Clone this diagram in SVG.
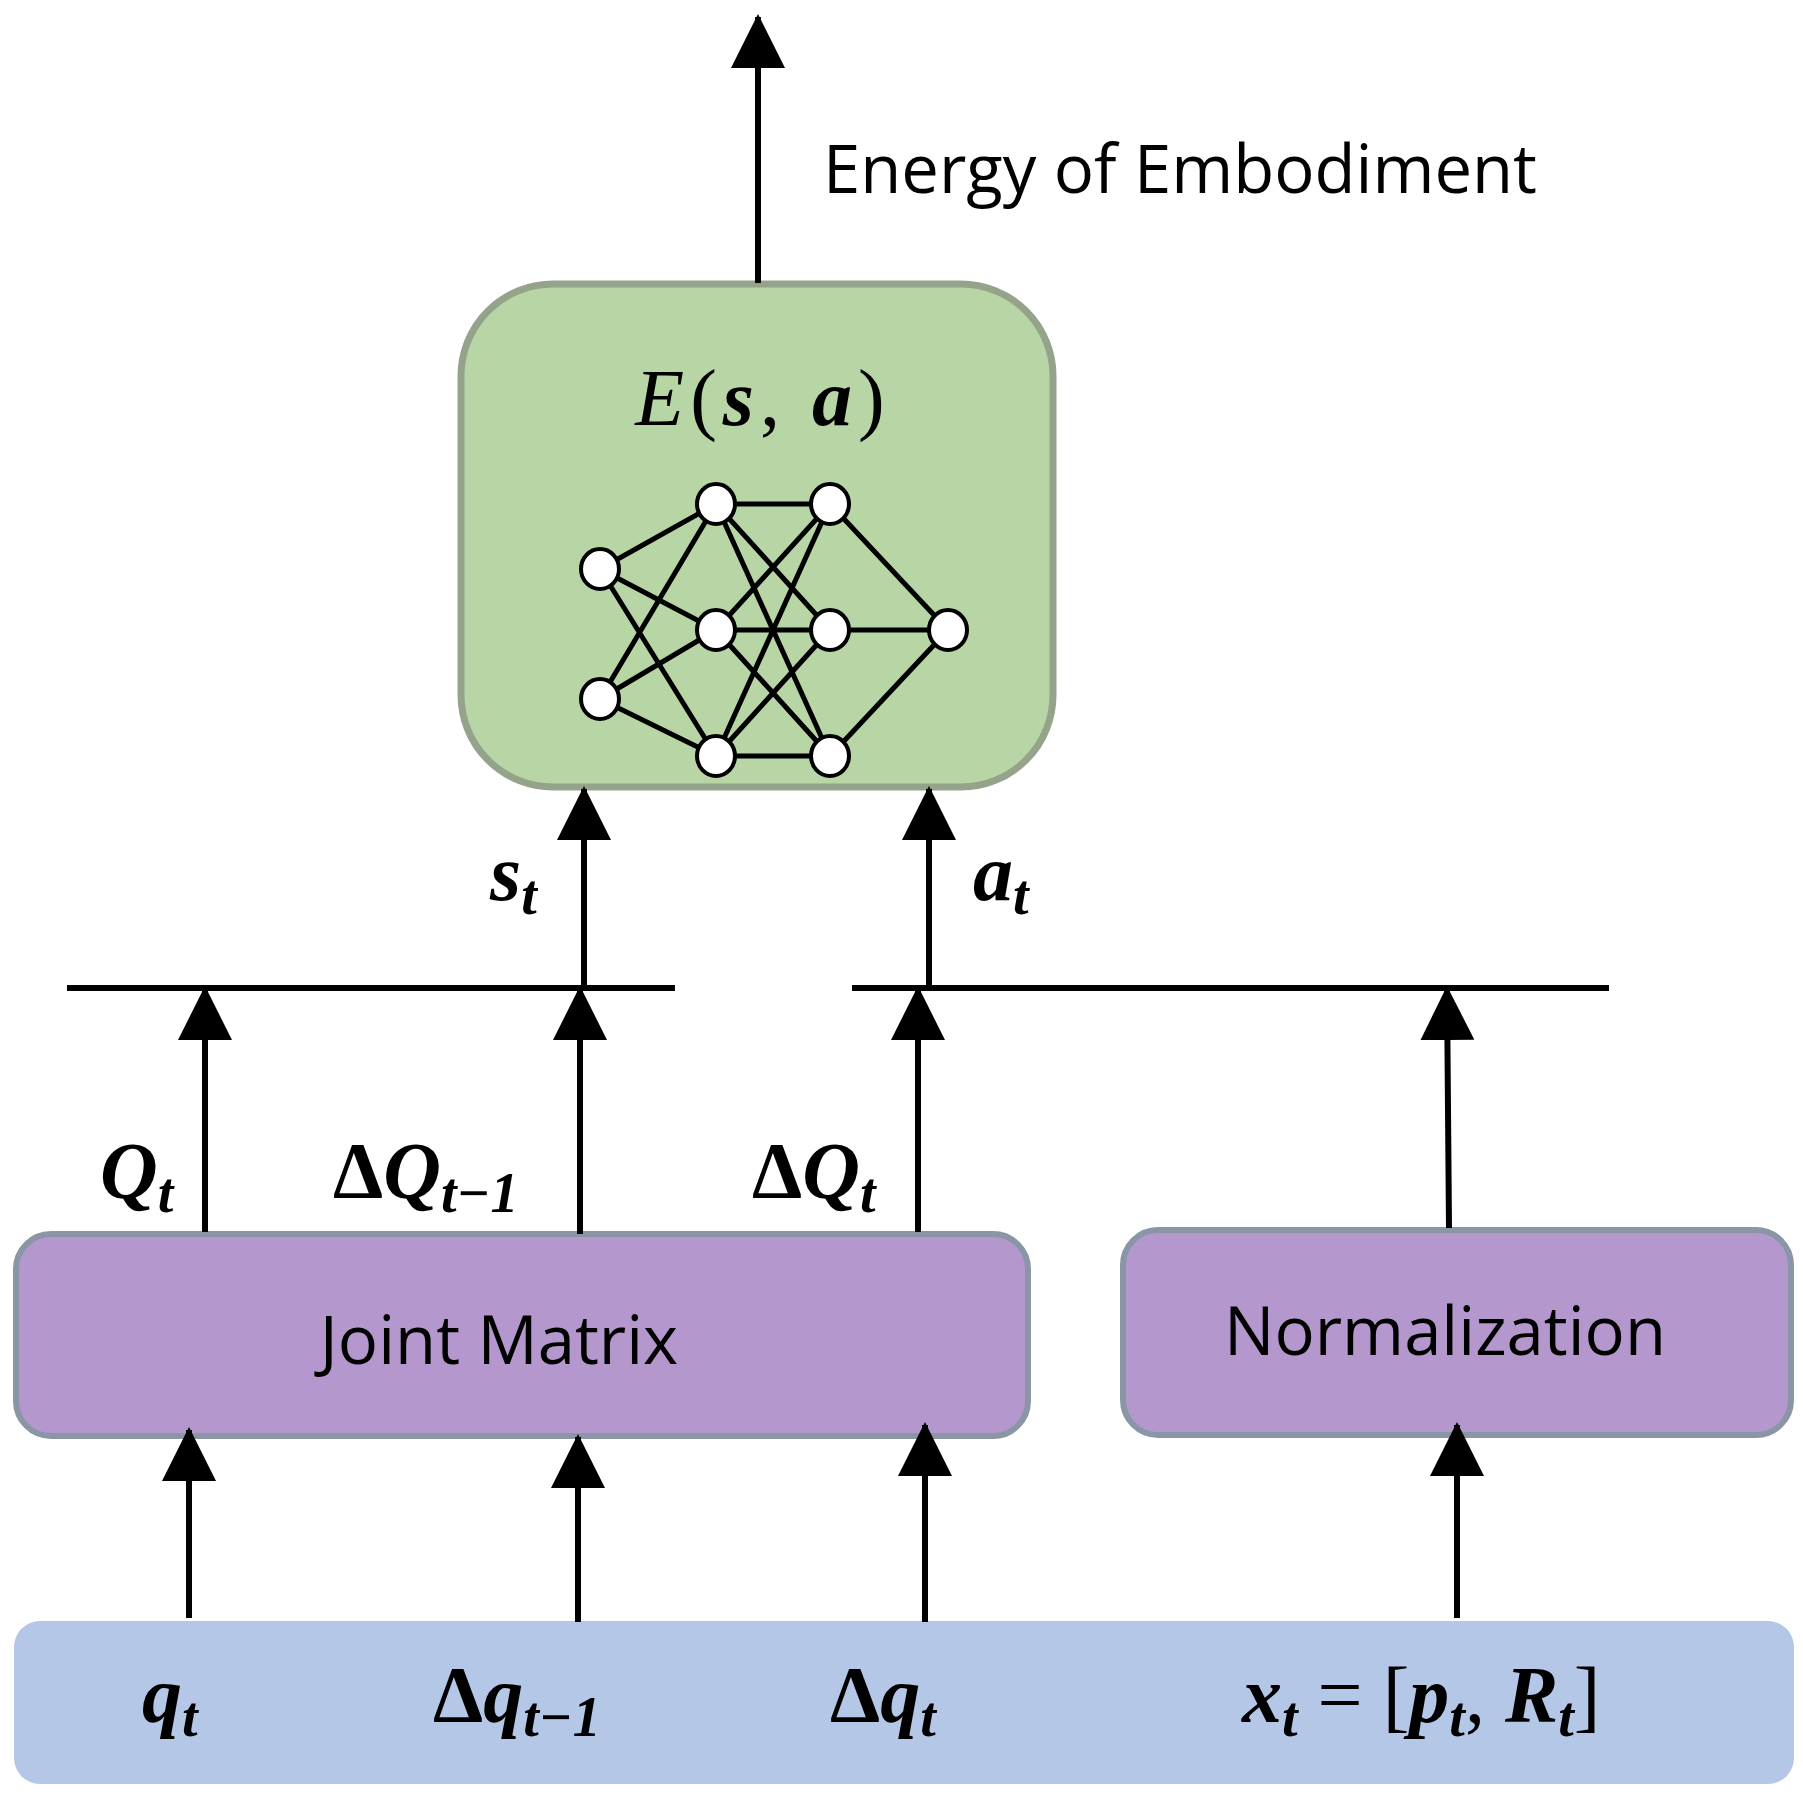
<svg xmlns="http://www.w3.org/2000/svg" width="1803" height="1793" viewBox="0 0 1803 1793">
<style>
.ln{stroke:#000;stroke-width:6;fill:none}
.m{font-family:"Liberation Serif",serif;font-style:italic;font-weight:bold;font-size:80px;fill:#000}
.sub{font-size:56px}
.up{font-style:normal}
.lbl{font-family:"Open Sans","Liberation Sans",sans-serif;font-size:67px;fill:#000}
.nn{stroke:#000;stroke-width:5;fill:none}
.nd{fill:#fff;stroke:#000;stroke-width:4}
</style>
<defs>
<marker id="ah" markerWidth="9" markerHeight="9" refX="8.5" refY="4.5" orient="auto" markerUnits="strokeWidth">
<path d="M0,0 L9,4.5 L0,9 Z" fill="#000"/>
</marker>
</defs>
<rect width="1803" height="1793" fill="#fff"/>
<g id="inputs">
<rect x="14" y="1621" width="1780" height="163" rx="26" fill="#b4c7e7"/>
<text class="m" x="142" y="1722">q<tspan class="sub" dy="14">t</tspan></text>
<text class="m" x="433" y="1722"><tspan class="up">Δ</tspan>q<tspan class="sub" dy="14">t−1</tspan></text>
<text class="m" x="830" y="1722"><tspan class="up">Δ</tspan>q<tspan class="sub" dy="14">t</tspan></text>
<text class="m" x="1242" y="1722">x<tspan class="sub" dy="14">t</tspan><tspan dy="-14" class="up" font-weight="normal"> = [</tspan>p<tspan class="sub" dy="14">t</tspan><tspan dy="-14" class="up" font-weight="normal">, </tspan>R<tspan class="sub" dy="14">t</tspan><tspan dy="-14" class="up" font-weight="normal">]</tspan></text>
</g>
<g id="joint">
<rect x="16" y="1234" width="1012" height="202" rx="35" fill="#b498cd" stroke="#8a95a5" stroke-width="6"/>
<text class="lbl" x="499" y="1364" text-anchor="middle" font-size="71">Joint Matrix</text>
</g>
<g id="norm">
<rect x="1123" y="1230" width="668" height="205" rx="35" fill="#b498cd" stroke="#8a95a5" stroke-width="6"/>
<text class="lbl" x="1445" y="1355" text-anchor="middle" font-size="70">Normalization</text>
</g>
<g id="energy">
<rect x="461" y="284" width="592" height="503" rx="92" fill="#b7d5a5" stroke="#95a38b" stroke-width="7"/>
<text class="m" x="763" y="425" text-anchor="middle" font-size="98" letter-spacing="6"><tspan font-weight="normal">E</tspan><tspan class="up" font-weight="normal">(</tspan>s<tspan class="up" font-weight="normal">, </tspan>a<tspan class="up" font-weight="normal">)</tspan></text>
<g class="nn">
<path d="M600,569L716,504M600,569L716,630M600,569L716,756M600,699L716,504M600,699L716,630M600,699L716,756"/>
<path d="M716,504L830,504M716,504L830,630M716,504L830,756M716,630L830,504M716,630L830,630M716,630L830,756M716,756L830,504M716,756L830,630M716,756L830,756"/>
<path d="M830,504L948,630M830,630L948,630M830,756L948,630"/>
</g>
<g class="nd">
<ellipse cx="600" cy="569" rx="19" ry="20"/><ellipse cx="600" cy="699" rx="19" ry="20"/>
<ellipse cx="716" cy="504" rx="19" ry="20"/><ellipse cx="716" cy="630" rx="19" ry="20"/><ellipse cx="716" cy="756" rx="19" ry="20"/>
<ellipse cx="830" cy="504" rx="19" ry="20"/><ellipse cx="830" cy="630" rx="19" ry="20"/><ellipse cx="830" cy="756" rx="19" ry="20"/>
<ellipse cx="948" cy="630" rx="19" ry="20"/>
</g>
</g>
<g id="connectors">
<line class="ln" x1="758" y1="283" x2="758" y2="17" marker-end="url(#ah)"/>
<line class="ln" x1="584" y1="988" x2="584" y2="789" marker-end="url(#ah)"/>
<line class="ln" x1="929" y1="988" x2="929" y2="789" marker-end="url(#ah)"/>
<line class="ln" x1="67" y1="988" x2="675" y2="988"/>
<line class="ln" x1="852" y1="988" x2="1609" y2="988"/>
<line class="ln" x1="205" y1="1232" x2="205" y2="989" marker-end="url(#ah)"/>
<line class="ln" x1="580" y1="1234" x2="580" y2="989" marker-end="url(#ah)"/>
<line class="ln" x1="918" y1="1232" x2="918" y2="989" marker-end="url(#ah)"/>
<line class="ln" x1="1449" y1="1228" x2="1447" y2="989" marker-end="url(#ah)"/>
<line class="ln" x1="189" y1="1618" x2="189" y2="1430" marker-end="url(#ah)"/>
<line class="ln" x1="578" y1="1622" x2="578" y2="1437" marker-end="url(#ah)"/>
<line class="ln" x1="925" y1="1622" x2="925" y2="1425" marker-end="url(#ah)"/>
<line class="ln" x1="1457" y1="1618" x2="1457" y2="1425" marker-end="url(#ah)"/>
</g>
<g id="labels">
<text class="lbl" x="823" y="193" font-size="68">Energy of Embodiment</text>
<text class="m" x="490" y="900">s<tspan class="sub" dy="14">t</tspan></text>
<text class="m" x="973" y="900">a<tspan class="sub" dy="14">t</tspan></text>
<text class="m" x="100" y="1198">Q<tspan class="sub" dy="14">t</tspan></text>
<text class="m" x="333" y="1198"><tspan class="up">Δ</tspan>Q<tspan class="sub" dy="14">t−1</tspan></text>
<text class="m" x="752" y="1198"><tspan class="up">Δ</tspan>Q<tspan class="sub" dy="14">t</tspan></text>
</g>
</svg>
